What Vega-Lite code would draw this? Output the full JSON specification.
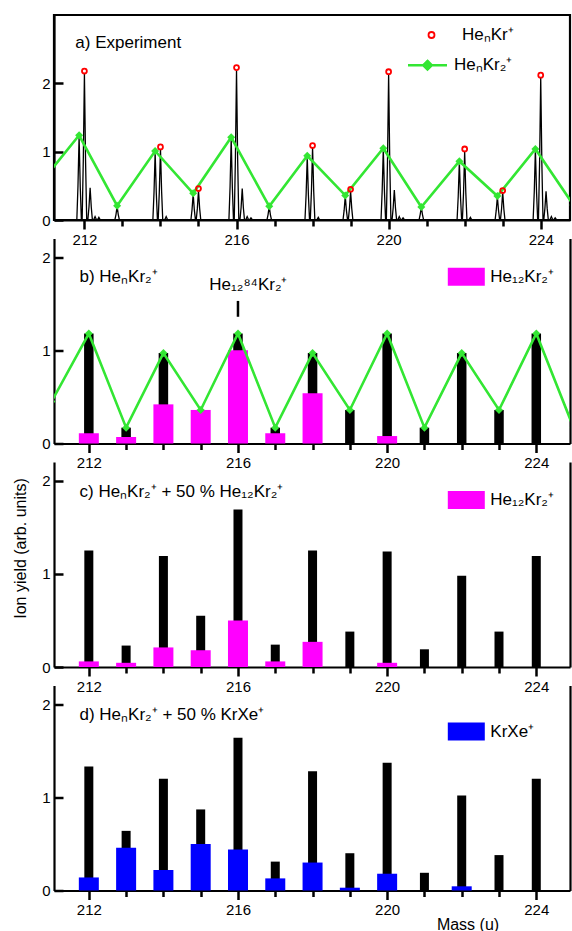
{
"$schema": "https://vega.github.io/schema/vega-lite/v6.json",
"padding": {"left": 12, "top": 13, "right": 2, "bottom": 0},
"spacing": 18.5,
"bounds": "flush",
"config": {
  "font": "Liberation Sans",
  "view": {"stroke": null},
  "axis": {"domainColor": "black", "tickColor": "black", "labelColor": "black", "titleColor": "black", "labelFont": "Liberation Sans", "titleFont": "Liberation Sans", "titleFontWeight": "normal", "grid": false, "labelFontSize": 15, "titleFontSize": 16, "domainWidth": 2.2, "tickWidth": 2.5},
  "legend": {"labelFont": "Liberation Sans", "labelFontSize": 16, "labelColor": "black", "padding": 0},
  "text": {"font": "Liberation Sans", "fontSize": 16, "color": "black"}
},
"datasets": {
  "spec": [
{"m":211.2,"v":0},
{"m":211.80,"v":0},{"m":211.83,"v":0.49},{"m":211.86,"v":1.22},{"m":211.89,"v":0.49},{"m":211.92,"v":0},
{"m":211.94,"v":0},{"m":211.97,"v":0.86},{"m":212.00,"v":2.14},{"m":212.03,"v":0.86},{"m":212.06,"v":0},
{"m":212.09,"v":0},{"m":212.12,"v":0.19},{"m":212.15,"v":0.47},{"m":212.18,"v":0.19},{"m":212.21,"v":0},
{"m":212.24,"v":0},{"m":212.28,"v":0.05},{"m":212.32,"v":0},
{"m":212.34,"v":0},{"m":212.38,"v":0.04},{"m":212.42,"v":0},
{"m":212.80,"v":0},{"m":212.83,"v":0.08},{"m":212.86,"v":0.2},{"m":212.89,"v":0.08},{"m":212.92,"v":0},
{"m":213.80,"v":0},{"m":213.83,"v":0.4},{"m":213.86,"v":0.99},{"m":213.89,"v":0.4},{"m":213.92,"v":0},
{"m":213.94,"v":0},{"m":213.97,"v":0.42},{"m":214.00,"v":1.04},{"m":214.03,"v":0.42},{"m":214.06,"v":0},
{"m":214.11,"v":0},{"m":214.15,"v":0.05},{"m":214.19,"v":0},
{"m":214.80,"v":0},{"m":214.83,"v":0.15},{"m":214.86,"v":0.38},{"m":214.89,"v":0.15},{"m":214.92,"v":0},
{"m":214.94,"v":0},{"m":214.97,"v":0.17},{"m":215.00,"v":0.43},{"m":215.03,"v":0.17},{"m":215.06,"v":0},
{"m":215.80,"v":0},{"m":215.83,"v":0.48},{"m":215.86,"v":1.19},{"m":215.89,"v":0.48},{"m":215.92,"v":0},
{"m":215.94,"v":0},{"m":215.97,"v":0.88},{"m":216.00,"v":2.19},{"m":216.03,"v":0.88},{"m":216.06,"v":0},
{"m":216.09,"v":0},{"m":216.12,"v":0.18},{"m":216.15,"v":0.46},{"m":216.18,"v":0.18},{"m":216.21,"v":0},
{"m":216.24,"v":0},{"m":216.28,"v":0.05},{"m":216.32,"v":0},
{"m":216.34,"v":0},{"m":216.38,"v":0.03},{"m":216.42,"v":0},
{"m":216.80,"v":0},{"m":216.83,"v":0.08},{"m":216.86,"v":0.2},{"m":216.89,"v":0.08},{"m":216.92,"v":0},
{"m":217.80,"v":0},{"m":217.83,"v":0.37},{"m":217.86,"v":0.92},{"m":217.89,"v":0.37},{"m":217.92,"v":0},
{"m":217.94,"v":0},{"m":217.97,"v":0.42},{"m":218.00,"v":1.06},{"m":218.03,"v":0.42},{"m":218.06,"v":0},
{"m":218.11,"v":0},{"m":218.15,"v":0.04},{"m":218.19,"v":0},
{"m":218.80,"v":0},{"m":218.83,"v":0.14},{"m":218.86,"v":0.35},{"m":218.89,"v":0.14},{"m":218.92,"v":0},
{"m":218.94,"v":0},{"m":218.97,"v":0.17},{"m":219.00,"v":0.42},{"m":219.03,"v":0.17},{"m":219.06,"v":0},
{"m":219.80,"v":0},{"m":219.83,"v":0.42},{"m":219.86,"v":1.04},{"m":219.89,"v":0.42},{"m":219.92,"v":0},
{"m":219.94,"v":0},{"m":219.97,"v":0.85},{"m":220.00,"v":2.13},{"m":220.03,"v":0.85},{"m":220.06,"v":0},
{"m":220.09,"v":0},{"m":220.12,"v":0.18},{"m":220.15,"v":0.44},{"m":220.18,"v":0.18},{"m":220.21,"v":0},
{"m":220.24,"v":0},{"m":220.28,"v":0.05},{"m":220.32,"v":0},
{"m":220.34,"v":0},{"m":220.38,"v":0.03},{"m":220.42,"v":0},
{"m":220.80,"v":0},{"m":220.83,"v":0.08},{"m":220.86,"v":0.19},{"m":220.89,"v":0.08},{"m":220.92,"v":0},
{"m":221.80,"v":0},{"m":221.83,"v":0.34},{"m":221.86,"v":0.85},{"m":221.89,"v":0.34},{"m":221.92,"v":0},
{"m":221.94,"v":0},{"m":221.97,"v":0.4},{"m":222.00,"v":1.0},{"m":222.03,"v":0.4},{"m":222.06,"v":0},
{"m":222.11,"v":0},{"m":222.15,"v":0.04},{"m":222.19,"v":0},
{"m":222.80,"v":0},{"m":222.83,"v":0.14},{"m":222.86,"v":0.34},{"m":222.89,"v":0.14},{"m":222.92,"v":0},
{"m":222.94,"v":0},{"m":222.97,"v":0.16},{"m":223.00,"v":0.41},{"m":223.03,"v":0.16},{"m":223.06,"v":0},
{"m":223.80,"v":0},{"m":223.83,"v":0.41},{"m":223.86,"v":1.03},{"m":223.89,"v":0.41},{"m":223.92,"v":0},
{"m":223.94,"v":0},{"m":223.97,"v":0.83},{"m":224.00,"v":2.08},{"m":224.03,"v":0.83},{"m":224.06,"v":0},
{"m":224.08,"v":0},{"m":224.11,"v":0.17},{"m":224.14,"v":0.42},{"m":224.17,"v":0.17},{"m":224.20,"v":0},
{"m":224.24,"v":0},{"m":224.28,"v":0.05},{"m":224.32,"v":0},
{"m":224.34,"v":0},{"m":224.38,"v":0.03},{"m":224.42,"v":0},
{"m":224.8,"v":0}
  ],
  "greenA": [{"m":210.86,"v":0.55},{"m":211.86,"v":1.24},{"m":212.86,"v":0.21},{"m":213.86,"v":1.01},{"m":214.86,"v":0.39},{"m":215.86,"v":1.21},{"m":216.86,"v":0.2},{"m":217.86,"v":0.94},{"m":218.86,"v":0.36},{"m":219.86,"v":1.05},{"m":220.86,"v":0.19},{"m":221.86,"v":0.86},{"m":222.86,"v":0.35},{"m":223.86,"v":1.04},{"m":224.86,"v":0.22}],
  "redA": [{"m":212,"v":2.18},{"m":214,"v":1.07},{"m":215,"v":0.46},{"m":216,"v":2.23},{"m":218,"v":1.09},{"m":219,"v":0.45},{"m":220,"v":2.17},{"m":222,"v":1.04},{"m":223,"v":0.43},{"m":224,"v":2.12}],
  "greenB": [{"m":211,"v":0.45},{"m":212,"v":1.18},{"m":213,"v":0.17},{"m":214,"v":0.97},{"m":215,"v":0.36},{"m":216,"v":1.18},{"m":217,"v":0.17},{"m":218,"v":0.97},{"m":219,"v":0.36},{"m":220,"v":1.18},{"m":221,"v":0.17},{"m":222,"v":0.97},{"m":223,"v":0.36},{"m":224,"v":1.18},{"m":225,"v":0.17}],
  "blackB": [{"m":212,"v":1.18},{"m":213,"v":0.17},{"m":214,"v":0.97},{"m":215,"v":0.36},{"m":216,"v":1.18},{"m":217,"v":0.17},{"m":218,"v":0.97},{"m":219,"v":0.36},{"m":220,"v":1.18},{"m":221,"v":0.17},{"m":222,"v":0.97},{"m":223,"v":0.36},{"m":224,"v":1.18}],
  "magB": [{"m":212,"v":0.11,"s":"He₁₂Kr₂⁺"},{"m":213,"v":0.07,"s":"He₁₂Kr₂⁺"},{"m":214,"v":0.42,"s":"He₁₂Kr₂⁺"},{"m":215,"v":0.36,"s":"He₁₂Kr₂⁺"},{"m":216,"v":1.0,"s":"He₁₂Kr₂⁺"},{"m":217,"v":0.11,"s":"He₁₂Kr₂⁺"},{"m":218,"v":0.54,"s":"He₁₂Kr₂⁺"},{"m":220,"v":0.08,"s":"He₁₂Kr₂⁺"}],
  "blackC": [{"m":212,"v":1.25},{"m":213,"v":0.23},{"m":214,"v":1.19},{"m":215,"v":0.55},{"m":216,"v":1.69},{"m":217,"v":0.24},{"m":218,"v":1.25},{"m":219,"v":0.38},{"m":220,"v":1.24},{"m":221,"v":0.19},{"m":222,"v":0.98},{"m":223,"v":0.38},{"m":224,"v":1.19}],
  "magC": [{"m":212,"v":0.06,"s":"He₁₂Kr₂⁺"},{"m":213,"v":0.045,"s":"He₁₂Kr₂⁺"},{"m":214,"v":0.21,"s":"He₁₂Kr₂⁺"},{"m":215,"v":0.18,"s":"He₁₂Kr₂⁺"},{"m":216,"v":0.5,"s":"He₁₂Kr₂⁺"},{"m":217,"v":0.06,"s":"He₁₂Kr₂⁺"},{"m":218,"v":0.27,"s":"He₁₂Kr₂⁺"},{"m":220,"v":0.045,"s":"He₁₂Kr₂⁺"}],
  "blackD": [{"m":212,"v":1.33},{"m":213,"v":0.64},{"m":214,"v":1.2},{"m":215,"v":0.87},{"m":216,"v":1.64},{"m":217,"v":0.31},{"m":218,"v":1.28},{"m":219,"v":0.4},{"m":220,"v":1.37},{"m":221,"v":0.19},{"m":222,"v":1.02},{"m":223,"v":0.38},{"m":224,"v":1.2}],
  "blueD": [{"m":212,"v":0.14,"s":"KrXe⁺"},{"m":213,"v":0.46,"s":"KrXe⁺"},{"m":214,"v":0.22,"s":"KrXe⁺"},{"m":215,"v":0.5,"s":"KrXe⁺"},{"m":216,"v":0.44,"s":"KrXe⁺"},{"m":217,"v":0.13,"s":"KrXe⁺"},{"m":218,"v":0.3,"s":"KrXe⁺"},{"m":219,"v":0.03,"s":"KrXe⁺"},{"m":220,"v":0.18,"s":"KrXe⁺"},{"m":222,"v":0.045,"s":"KrXe⁺"}]
},
"resolve": {"scale": {"y": "independent", "fill": "independent", "shape": "independent", "stroke": "independent", "size": "independent", "color": "independent"}},
"vconcat": [
{
  "width": 516, "height": 205,
  "view": {"stroke": "black", "strokeWidth": 2.2},
  "layer": [
    {"data": {"name": "spec"}, "mark": {"type": "line", "color": "black", "strokeWidth": 1.3, "clip": true},
      "encoding": {
        "x": {"field": "m", "type": "quantitative", "scale": {"domain": [211.2, 224.77], "nice": false, "zero": false},
          "axis": {"values": [212,213,214,215,216,217,218,219,220,221,222,223,224], "labelExpr": "datum.value % 4 === 0 ? datum.label : ''", "tickSize": {"condition": {"test": "datum.value % 4 === 0", "value": 9}, "value": 6}, "labelPadding": 3, "title": null, "labelFlush": false}},
        "y": {"field": "v", "type": "quantitative", "scale": {"domain": [0, 3], "nice": false},
          "axis": {"values": [0, 1, 2], "format": "d", "tickSize": -9, "labelPadding": 13, "title": null}}}},
    {"data": {"name": "greenA"}, "mark": {"type": "line", "strokeWidth": 2.6, "clip": true},
      "encoding": {"x": {"field": "m", "type": "quantitative"}, "y": {"field": "v", "type": "quantitative"},
        "color": {"datum": "HeₙKr₂⁺", "type": "nominal", "scale": {"range": ["#33e633"]},
          "legend": {"title": null, "orient": "none", "legendX": 362, "legendY": 38.7, "symbolType": "M-1.95,0H1.95M0,-0.42L0.42,0L0,0.42L-0.42,0ZM0,-0.22L0.22,0L0,0.22L-0.22,0ZM-0.06,0H0.06", "symbolSize": 400, "symbolStrokeWidth": 2.6, "symbolStrokeColor": "#33e633", "labelOffset": 15, "labelFontSize": 17, "symbolOpacity": 1}}}},
    {"data": {"name": "greenA"}, "mark": {"type": "point", "shape": "diamond", "filled": true, "color": "#33e633", "size": 64, "opacity": 1, "clip": true},
      "encoding": {"x": {"field": "m", "type": "quantitative"}, "y": {"field": "v", "type": "quantitative"}}},
    {"data": {"name": "redA"}, "mark": {"type": "point", "filled": false, "size": 24, "strokeWidth": 1.8, "opacity": 1, "clip": true},
      "encoding": {"x": {"field": "m", "type": "quantitative"}, "y": {"field": "v", "type": "quantitative"},
        "stroke": {"datum": "HeₙKr⁺", "type": "nominal", "scale": {"range": ["#ff0000"]},
          "legend": {"title": null, "orient": "none", "legendX": 369, "legendY": 11.5, "symbolType": "circle", "symbolSize": 36, "symbolStrokeWidth": 1.8, "labelOffset": 22, "labelFontSize": 17, "symbolOpacity": 1}}}},
    {"data": {"values": [{"t": "a) Experiment"}]}, "mark": {"type": "text", "align": "left", "baseline": "middle", "fontSize": 17},
      "encoding": {"text": {"field": "t"}, "x": {"datum": 211.76}, "y": {"datum": 2.59}}}
  ]
},
{
  "width": 516, "height": 205,
  "resolve": {"axis": {"y": "independent"}},
  "layer": [
    {"data": {"name": "blackB"}, "mark": {"type": "bar", "orient": "vertical", "size": 9.5, "color": "black"},
      "encoding": {
        "x": {"field": "m", "type": "quantitative", "scale": {"domain": [211.2, 224.77], "nice": false, "zero": false},
          "axis": {"values": [212,213,214,215,216,217,218,219,220,221,222,223,224], "labelExpr": "datum.value % 4 === 0 ? datum.label : ''", "tickSize": {"condition": {"test": "datum.value % 4 === 0", "value": 9}, "value": 6}, "labelPadding": 3, "title": null, "labelFlush": false}},
        "y": {"field": "v", "type": "quantitative", "scale": {"domain": [0, 2.2], "nice": false}, "axis": {"values": [0, 1, 2], "format": "d", "tickSize": -9, "labelPadding": 13, "title": null}}}},
    {"data": {"name": "magB"}, "mark": {"type": "bar", "orient": "vertical", "size": 20},
      "encoding": {"x": {"field": "m", "type": "quantitative"},
        "y": {"field": "v", "type": "quantitative", "axis": {"orient": "right", "labels": false, "ticks": false, "title": null}},
        "fill": {"field": "s", "type": "nominal", "scale": {"range": ["#ff00ff"]},
          "legend": {"title": null, "orient": "none", "legendX": 402.3, "legendY": 28.3, "symbolType": "M-1.85,-0.9H1.85V0.9H-1.85Z", "symbolSize": 400, "symbolStrokeWidth": 0, "labelOffset": 14, "labelFontSize": 17, "symbolOpacity": 1}}}},
    {"data": {"name": "greenB"}, "mark": {"type": "line", "color": "#33e633", "strokeWidth": 2.6, "clip": true},
      "encoding": {"x": {"field": "m", "type": "quantitative"}, "y": {"field": "v", "type": "quantitative", "axis": null}}},
    {"data": {"name": "greenB"}, "mark": {"type": "point", "shape": "diamond", "filled": true, "color": "#33e633", "size": 64, "opacity": 1, "clip": true},
      "encoding": {"x": {"field": "m", "type": "quantitative"}, "y": {"field": "v", "type": "quantitative", "axis": null}}},
    {"data": {"values": [{"t": "|"}]}, "mark": {"type": "rule", "strokeWidth": 2.5, "color": "black"},
      "encoding": {"x": {"datum": 216}, "y": {"datum": 1.36, "axis": null}, "y2": {"datum": 1.53}}},
    {"data": {"values": [{"t": "He₁₂⁸⁴Kr₂⁺"}]}, "mark": {"type": "text", "align": "center", "baseline": "middle", "fontSize": 17},
      "encoding": {"text": {"field": "t"}, "x": {"datum": 216.28}, "y": {"datum": 1.7, "axis": null}}},
    {"data": {"values": [{"t": "b) HeₙKr₂⁺"}]}, "mark": {"type": "text", "align": "left", "baseline": "middle", "fontSize": 17},
      "encoding": {"text": {"field": "t"}, "x": {"datum": 211.75}, "y": {"datum": 1.79, "axis": null}}}
  ]
},
{
  "width": 516, "height": 205,
  "resolve": {"axis": {"y": "independent"}},
  "layer": [
    {"data": {"name": "blackC"}, "mark": {"type": "bar", "orient": "vertical", "size": 9, "color": "black"},
      "encoding": {
        "x": {"field": "m", "type": "quantitative", "scale": {"domain": [211.2, 224.77], "nice": false, "zero": false},
          "axis": {"values": [212,213,214,215,216,217,218,219,220,221,222,223,224], "labelExpr": "datum.value % 4 === 0 ? datum.label : ''", "tickSize": {"condition": {"test": "datum.value % 4 === 0", "value": 9}, "value": 6}, "labelPadding": 3, "title": null, "labelFlush": false}},
        "y": {"field": "v", "type": "quantitative", "scale": {"domain": [0, 2.2], "nice": false}, "axis": {"values": [0, 1, 2], "format": "d", "tickSize": -9, "labelPadding": 13, "title": "Ion yield (arb. units)", "titleX": -33.5, "titleY": 86, "titleBaseline": "middle", "titleAlign": "center", "titleAngle": 270}}}},
    {"data": {"name": "magC"}, "mark": {"type": "bar", "orient": "vertical", "size": 20},
      "encoding": {"x": {"field": "m", "type": "quantitative"},
        "y": {"field": "v", "type": "quantitative", "axis": {"orient": "right", "labels": false, "ticks": false, "title": null}},
        "fill": {"field": "s", "type": "nominal", "scale": {"range": ["#ff00ff"]},
          "legend": {"title": null, "orient": "none", "legendX": 402.3, "legendY": 28, "symbolType": "M-1.85,-0.9H1.85V0.9H-1.85Z", "symbolSize": 400, "symbolStrokeWidth": 0, "labelOffset": 14, "labelFontSize": 17, "symbolOpacity": 1}}}},
    {"data": {"values": [{"t": "c) HeₙKr₂⁺ + 50 % He₁₂Kr₂⁺"}]}, "mark": {"type": "text", "align": "left", "baseline": "middle", "fontSize": 17},
      "encoding": {"text": {"field": "t"}, "x": {"datum": 211.75}, "y": {"datum": 1.88, "axis": null}}}
  ]
},
{
  "width": 516, "height": 205,
  "resolve": {"axis": {"y": "independent"}},
  "layer": [
    {"data": {"name": "blackD"}, "mark": {"type": "bar", "orient": "vertical", "size": 9, "color": "black"},
      "encoding": {
        "x": {"field": "m", "type": "quantitative", "scale": {"domain": [211.2, 224.77], "nice": false, "zero": false},
          "axis": {"values": [212,213,214,215,216,217,218,219,220,221,222,223,224], "labelExpr": "datum.value % 4 === 0 ? datum.label : ''", "tickSize": {"condition": {"test": "datum.value % 4 === 0", "value": 9}, "value": 6}, "labelPadding": 3, "title": "Mass (u)", "titleX": 413.5, "titleY": 26, "titleBaseline": "top", "labelFlush": false}},
        "y": {"field": "v", "type": "quantitative", "scale": {"domain": [0, 2.2], "nice": false}, "axis": {"values": [0, 1, 2], "format": "d", "tickSize": -9, "labelPadding": 13, "title": null}}}},
    {"data": {"name": "blueD"}, "mark": {"type": "bar", "orient": "vertical", "size": 20},
      "encoding": {"x": {"field": "m", "type": "quantitative"},
        "y": {"field": "v", "type": "quantitative", "axis": {"orient": "right", "labels": false, "ticks": false, "title": null}},
        "fill": {"field": "s", "type": "nominal", "scale": {"range": ["#0000ff"]},
          "legend": {"title": null, "orient": "none", "legendX": 402.3, "legendY": 36, "symbolType": "M-1.85,-0.9H1.85V0.9H-1.85Z", "symbolSize": 400, "symbolStrokeWidth": 0, "labelOffset": 14, "labelFontSize": 17, "symbolOpacity": 1}}}},
    {"data": {"values": [{"t": "d) HeₙKr₂⁺ + 50 % KrXe⁺"}]}, "mark": {"type": "text", "align": "left", "baseline": "middle", "fontSize": 17},
      "encoding": {"text": {"field": "t"}, "x": {"datum": 211.75}, "y": {"datum": 1.88, "axis": null}}}
  ]
}
]
}
